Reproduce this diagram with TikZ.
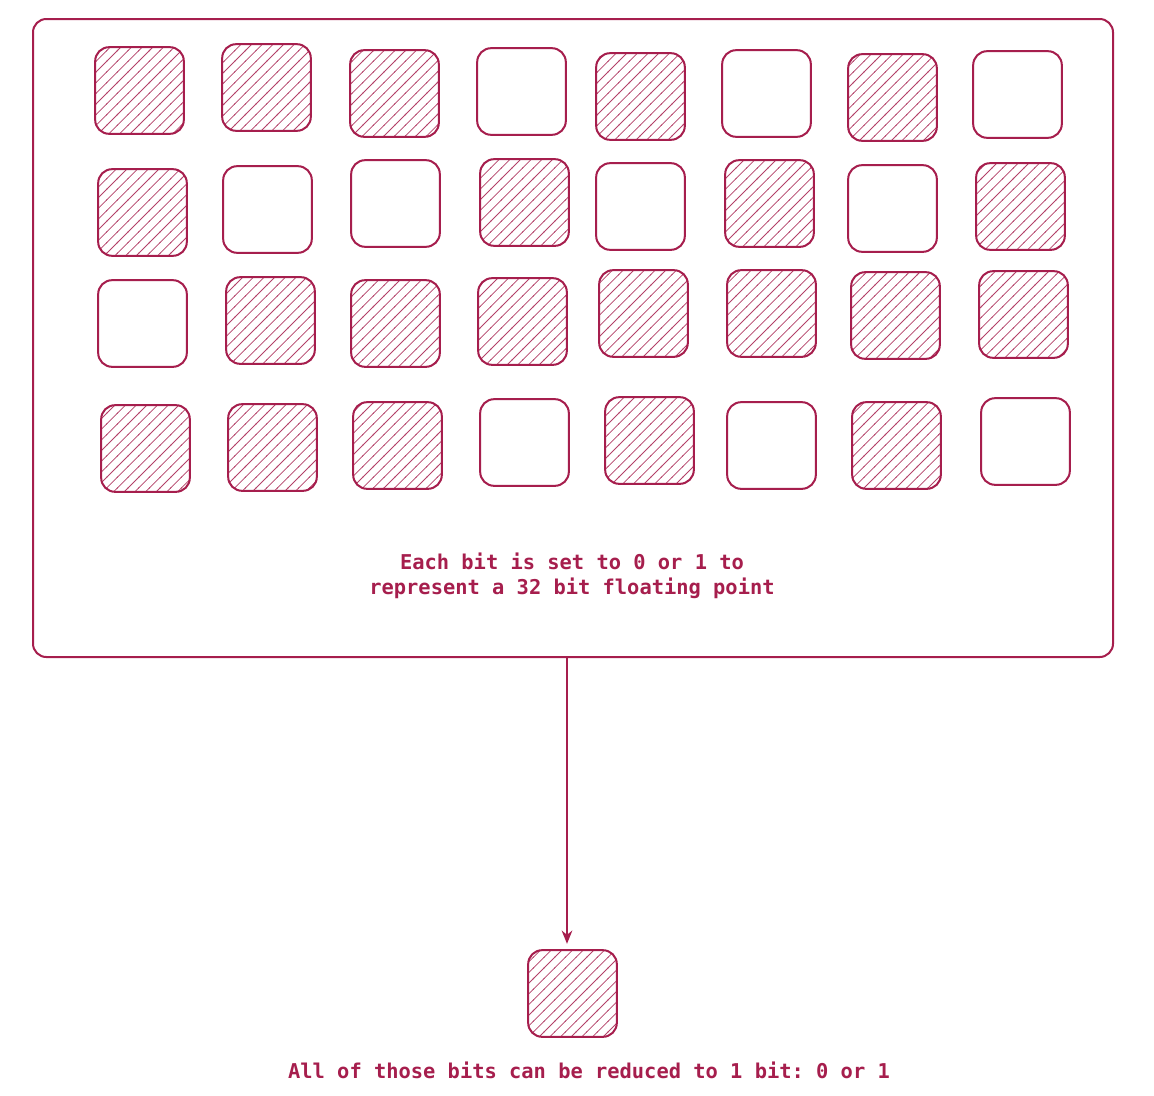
\documentclass[tikz,border=0pt]{standalone}
\usepackage{fontspec}
\setmonofont{DejaVu Sans Mono}
\usetikzlibrary{patterns.meta,arrows.meta}
\definecolor{bitred}{HTML}{A61E4D}
\tikzdeclarepattern{
  name=bithatch,
  type=uncolored,
  bottom left={(-0.5pt,-0.5pt)},
  top right={(8.5pt,8.5pt)},
  tile size={(8pt,8pt)},
  code={\draw[line width=0.55pt] (-0.5pt,-0.5pt) -- (8.5pt,8.5pt);}
}
\tikzset{
  bitbox/.style={draw=bitred, line width=1.5pt, rounded corners=10.5pt,
    minimum width=66.5pt, minimum height=65pt, inner sep=0pt},
  bitone/.style={bitbox, pattern={bithatch}, pattern color=bitred!85},
  bitzero/.style={bitbox, fill=white},
  lbl/.style={text=bitred, font=\ttfamily\bfseries\fontsize{15.3}{18.5}\selectfont, align=center},
}
\begin{document}
\begin{tikzpicture}[x=0.75pt,y=-0.75pt]
\useasboundingbox (0,0) rectangle (1154,1096);
\node[draw=bitred, line width=1.5pt, rounded corners=10pt, minimum width=810pt, minimum height=478.5pt, inner sep=0pt] (frame) at (573,338) {};
\foreach \n/\x/\y/\s in {
  a1/139.5/90.5/bitone, a2/266.5/87.5/bitone, a3/394.5/93.5/bitone, a4/521.5/91.5/bitzero,
  a5/640.5/96.5/bitone, a6/766.5/93.5/bitzero, a7/892.5/97.5/bitone, a8/1017.5/94.5/bitzero,
  b1/142.5/212.5/bitone, b2/267.5/209.5/bitzero, b3/395.5/203.5/bitzero, b4/524.5/202.5/bitone,
  b5/640.5/206.5/bitzero, b6/769.5/203.5/bitone, b7/892.5/208.5/bitzero, b8/1020.5/206.5/bitone,
  c1/142.5/323.5/bitzero, c2/270.5/320.5/bitone, c3/395.5/323.5/bitone, c4/522.5/321.5/bitone,
  c5/643.5/313.5/bitone, c6/771.5/313.5/bitone, c7/895.5/315.5/bitone, c8/1023.5/314.5/bitone,
  d1/145.5/448.5/bitone, d2/272.5/447.5/bitone, d3/397.5/445.5/bitone, d4/524.5/442.5/bitzero,
  d5/649.5/440.5/bitone, d6/771.5/445.5/bitzero, d7/896.5/445.5/bitone, d8/1025.5/441.5/bitzero}
  {\node[\s] (\n) at (\x,\y) {};}
\node[lbl] (t1) at (572,576) {Each bit is set to 0 or 1 to\\represent a 32 bit floating point};
\node[bitone] (single) at (572.5,993.5) {};
\node[lbl] (t2) at (589,1070) {All of those bits can be reduced to 1 bit: 0 or 1};
\coordinate (ax) at (567,0);
\draw[bitred, line width=1.2pt, -{Stealth[length=10pt,width=8pt]}, shorten >=4pt]
  (frame.south -| ax) -- (single.north -| ax);
\end{tikzpicture}
\end{document}
